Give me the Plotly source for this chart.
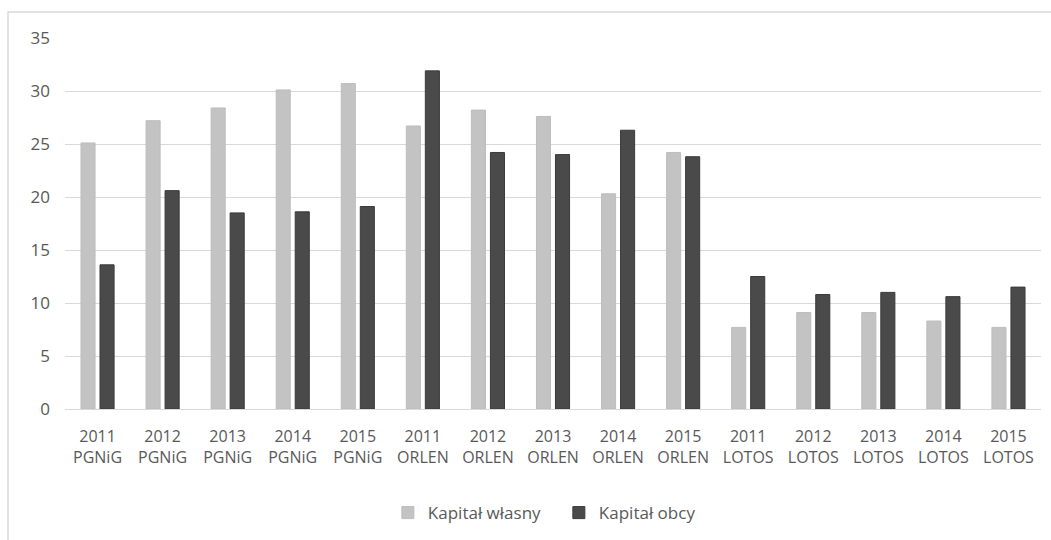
import plotly.graph_objects as go

years = ["2011", "2012", "2013", "2014", "2015"]
companies = ["PGNiG", "ORLEN", "LOTOS"]
categories = [f"{y}<br>{c}" for c in companies for y in years]

kapital_wlasny = [25.1, 27.2, 28.4, 30.1, 30.7,
                  26.7, 28.2, 27.6, 20.3, 24.2,
                  7.7, 9.1, 9.1, 8.3, 7.7]
kapital_obcy = [13.6, 20.6, 18.5, 18.6, 19.1,
                31.9, 24.2, 24.0, 26.3, 23.8,
                12.5, 10.8, 11.0, 10.6, 11.5]

y_ticks = [0, 5, 10, 15, 20, 25, 30, 35]

font_family = "Open Sans"
text_color = "#595959"

fig = go.Figure()
fig.add_trace(go.Bar(
    x=categories, y=kapital_wlasny, name="Kapitał własny",
    marker=dict(color="#C3C3C3", line=dict(color="#BDBDBD", width=1)),
))
fig.add_trace(go.Bar(
    x=categories, y=kapital_obcy, name="Kapitał obcy",
    marker=dict(color="#4A4A4A", line=dict(color="#3A3A3A", width=1)),
))

fig.update_layout(
    width=1051, height=540,
    margin=dict(l=65, r=10, t=38, b=130),
    paper_bgcolor="white", plot_bgcolor="white",
    barmode="group", bargap=0.415, bargroupgap=0.26,
    font=dict(family=font_family, size=16, color=text_color),
    showlegend=True,
    legend=dict(orientation="h", x=0.506, xanchor="center", y=-0.277, yanchor="middle",
                font=dict(size=17, color=text_color), itemwidth=30,
                entrywidth=126, traceorder="normal"),
    xaxis=dict(showgrid=False, showline=False, ticks="", tickangle=0,
               tickfont=dict(size=16, color=text_color), ticklabelstandoff=16),
    yaxis=dict(range=[0, 35], tickvals=y_ticks, showgrid=True, gridcolor="#D9D9D9",
               gridwidth=1, zeroline=True, zerolinecolor="#D9D9D9", zerolinewidth=1,
               showline=False, ticks="", ticklabelstandoff=14,
               tickfont=dict(size=17, color=text_color)),
    shapes=[dict(type="rect", xref="paper", yref="paper",
                 x0=(8 - 65) / 976, x1=(1060 - 65) / 976,
                 y0=(410 - 560) / 372, y1=(410 - 12) / 372,
                 line=dict(color="#D9D9D9", width=1.5), fillcolor="rgba(0,0,0,0)",
                 layer="below")],
)

fig.write_html("out.html")
